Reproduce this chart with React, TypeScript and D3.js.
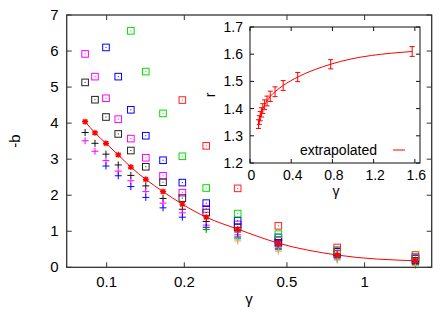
import React from 'react';
import * as d3 from 'd3';

// gamma values shared by every series (13 columns)
const gammas = [0.0825, 0.0901, 0.0994, 0.1109, 0.1241, 0.1418, 0.1654, 0.1965, 0.2432, 0.322, 0.463, 0.783, 1.574];

// open squares, each series starts at a different column (first index)
const sqMagenta = [5.92, 5.29, 4.69, 4.11, 3.57, 3.04, 2.54, 2.07, 1.62, 1.19, 0.76, 0.45, 0.27];
const sqBlack = [5.13, 4.65, 4.17, 3.70, 3.24, 2.79, 2.36, 1.92, 1.52, 1.11, 0.68, 0.38, 0.18];
const sqBlue = [6.10, 5.29, 4.37, 3.65, 2.97, 2.35, 1.78, 1.29, 0.83, 0.43, 0.24];
const sqGreen = [6.56, 5.43, 4.27, 3.08, 2.20, 1.49, 0.92, 0.48, 0.29];
const sqRed = [4.64, 3.37, 2.19, 1.15, 0.55, 0.34];

// plus markers
const plBlack = [3.74, 3.44, 3.14, 2.84, 2.55, 2.26, 1.91, 1.61, 1.27, 0.98, 0.62, 0.33, 0.15];
const plMagenta = [3.51, 3.22, 2.96, 2.67, 2.40, 2.10, 1.78, 1.51, 1.17, 0.90, 0.57, 0.29, 0.12];
const plBlue = [2.81, 2.54, 2.24, 1.94, 1.65, 1.39, 1.11, 0.84, 0.53, 0.26, 0.10];
const plGreen = [1.05, 0.79, 0.49, 0.23, 0.08];
const plOrange = [0.73, 0.45, 0.20, 0.05];

// extrapolated -b (red curve)
const extrapB = [4.04, 3.73, 3.44, 3.12, 2.78, 2.44, 2.10, 1.75, 1.39, 1.06, 0.67, 0.34, 0.18];
const extrapErr = 0.04;

// inset r(gamma)
const insetR = [1.343, 1.358, 1.372, 1.386, 1.400, 1.414, 1.428, 1.445, 1.462, 1.485, 1.516, 1.563, 1.610];
const insetErr = [0.016, 0.016, 0.017, 0.017, 0.018, 0.018, 0.018, 0.019, 0.018, 0.018, 0.017, 0.017, 0.018];

const yTicks = [0, 1, 2, 3, 4, 5, 6, 7];
const xTicks = [0.1, 0.2, 0.5, 1];
const xTickLabels = ['0.1', '0.2', '0.5', '1'];
const insetYTicks = [1.2, 1.3, 1.4, 1.5, 1.6, 1.7];
const insetXTicks = [0, 0.4, 0.8, 1.2, 1.6];

const squareSeries = [
  { vals: sqMagenta, color: '#ff00ff' },
  { vals: sqBlack, color: '#222222' },
  { vals: sqBlue, color: '#0000ff' },
  { vals: sqGreen, color: '#00e000' },
  { vals: sqRed, color: '#ff2020' },
];
const plusSeries = [
  { vals: plBlack, color: '#111111' },
  { vals: plMagenta, color: '#ff00ff' },
  { vals: plBlue, color: '#0000ff' },
  { vals: plGreen, color: '#00a000' },
  { vals: plOrange, color: '#f0a060' },
];

const W = 443;
const H = 317;
const FONT = 'Liberation Sans, Arial, sans-serif';

const App: React.FC = () => {
  const x = d3.scaleLog().domain([0.07, 1.82]).range([66.7, 431.7]);
  const y = d3.scaleLinear().domain([0, 7]).range([267.3, 15]);

  const ix = d3.scaleLinear().domain([0, 1.65]).range([250, 420]);
  const iy = d3.scaleLinear().domain([1.2, 1.7]).range([163, 27]);

  // align series to the last columns
  const pts = (vals: number[]) => {
    const off = gammas.length - vals.length;
    return vals.map((v, i) => ({ g: gammas[i + off], v }));
  };

  const mainLine = d3.line<number>()
    .x((d, i) => x(gammas[i]))
    .y(d => y(d))
    .curve(d3.curveMonotoneX);

  const insetLine = d3.line<number>()
    .x((d, i) => ix(gammas[i]))
    .y(d => iy(d))
    .curve(d3.curveMonotoneX);

  const [x0, x1] = x.range();
  const [y0, y1] = y.range();
  const tick = 5;

  return (
    <svg width={W} height={H} style={{ position: 'absolute', left: 0, top: 0, background: '#fff' }}
      fontFamily={FONT}>
      {/* data: squares */}
      {squareSeries.map((s, si) => (
        <g key={'sq' + si} stroke={s.color} fill="none" strokeWidth={1}>
          {pts(s.vals).map((p, i) => (
            <g key={i} transform={`translate(${x(p.g)},${y(p.v)})`}>
              <rect x={-3.3} y={-3.3} width={6.6} height={6.6} />
              <rect x={-0.5} y={-0.5} width={1} height={1} fill={s.color} stroke="none" />
            </g>
          ))}
        </g>
      ))}
      {/* data: plus markers */}
      {plusSeries.map((s, si) => (
        <g key={'pl' + si} stroke={s.color} strokeWidth={1}>
          {pts(s.vals).map((p, i) => (
            <path key={i} d={`M${x(p.g) - 3.5},${y(p.v)}h7M${x(p.g)},${y(p.v) - 3.5}v7`} />
          ))}
        </g>
      ))}
      {/* extrapolated curve */}
      <path d={mainLine(extrapB) || ''} fill="none" stroke="#ff0000" strokeWidth={1} />
      <g stroke="#ff0000" strokeWidth={1}>
        {extrapB.map((v, i) => {
          const cx = x(gammas[i]);
          const cy = y(v);
          return (
            <g key={i}>
              <path d={`M${cx},${y(v - extrapErr)}V${y(v + extrapErr)}M${cx - 2.5},${y(v - extrapErr)}h5M${cx - 2.5},${y(v + extrapErr)}h5`} />
              <path d={`M${cx - 3},${cy}h6M${cx},${cy - 3}v6M${cx - 2.2},${cy - 2.2}l4.4,4.4M${cx - 2.2},${cy + 2.2}l4.4,-4.4`} strokeWidth={1.2} />
            </g>
          );
        })}
      </g>

      {/* main frame and ticks */}
      <rect x={x0} y={y1} width={x1 - x0} height={y0 - y1} fill="none" stroke="#333" strokeWidth={1.3} />
      <g stroke="#333" strokeWidth={1}>
        {yTicks.map(t => (
          <g key={t}>
            <line x1={x0} x2={x0 + tick} y1={y(t)} y2={y(t)} />
            <line x1={x1} x2={x1 - tick} y1={y(t)} y2={y(t)} />
          </g>
        ))}
        {xTicks.map(t => (
          <g key={t}>
            <line x1={x(t)} x2={x(t)} y1={y0} y2={y0 - tick} />
            <line x1={x(t)} x2={x(t)} y1={y1} y2={y1 + tick} />
          </g>
        ))}
      </g>
      <g fontSize={15} fill="#000">
        {yTicks.map(t => (
          <text key={t} x={x0 - 8} y={y(t) + 5} textAnchor="end">{t}</text>
        ))}
        {xTicks.map((t, i) => (
          <text key={t} x={x(t)} y={y0 + 20} textAnchor="middle">{xTickLabels[i]}</text>
        ))}
        <text x={249} y={304} textAnchor="middle">γ</text>
        <text transform={`translate(20,${(y0 + y1) / 2}) rotate(-90)`} textAnchor="middle">-b</text>
      </g>

      {/* inset */}
      <rect x={ix(0)} y={iy(1.7)} width={ix(1.65) - ix(0)} height={iy(1.2) - iy(1.7)} fill="#fff" stroke="none" />
      <path d={insetLine(insetR) || ''} fill="none" stroke="#ff0000" strokeWidth={1} />
      <g stroke="#ff0000" strokeWidth={1}>
        {insetR.map((r, i) => {
          const cx = ix(gammas[i]);
          return (
            <path key={i}
              d={`M${cx},${iy(r - insetErr[i])}V${iy(r + insetErr[i])}M${cx - 2.5},${iy(r - insetErr[i])}h5M${cx - 2.5},${iy(r + insetErr[i])}h5`} />
          );
        })}
      </g>
      <rect x={ix(0)} y={iy(1.7)} width={ix(1.65) - ix(0)} height={iy(1.2) - iy(1.7)} fill="none" stroke="#111" strokeWidth={1} />
      <g stroke="#111" strokeWidth={1}>
        {insetYTicks.map(t => (
          <g key={t}>
            <line x1={ix(0)} x2={ix(0) + 4} y1={iy(t)} y2={iy(t)} />
            <line x1={ix(1.65)} x2={ix(1.65) - 4} y1={iy(t)} y2={iy(t)} />
          </g>
        ))}
        {insetXTicks.map(t => (
          <g key={t}>
            <line x1={ix(t)} x2={ix(t)} y1={iy(1.2)} y2={iy(1.2) - 4} />
            <line x1={ix(t)} x2={ix(t)} y1={iy(1.7)} y2={iy(1.7) + 4} />
          </g>
        ))}
      </g>
      <g fontSize={14} fill="#000">
        {insetYTicks.map(t => (
          <text key={t} x={ix(0) - 7} y={iy(t) + 5} textAnchor="end">{t.toFixed(1)}</text>
        ))}
        {insetXTicks.map(t => (
          <text key={t} x={ix(t) + 1.5} y={iy(1.2) + 17} textAnchor="middle">{t === 0 ? '0' : t.toFixed(1)}</text>
        ))}
        <text x={336} y={196} textAnchor="middle">γ</text>
        <text transform={`translate(215,${(iy(1.2) + iy(1.7)) / 2}) rotate(-90)`} textAnchor="middle">r</text>
        <text x={377} y={155} textAnchor="end">extrapolated</text>
        <line x1={393} x2={405} y1={150} y2={150} stroke="#ff0000" strokeWidth={1} />
      </g>
    </svg>
  );
};

export default App;
